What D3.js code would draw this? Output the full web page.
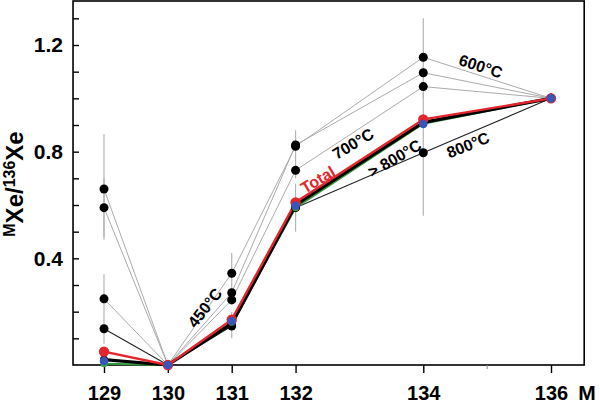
<!DOCTYPE html>
<html><head><meta charset="utf-8">
<script src="https://cdn.jsdelivr.net/npm/d3@7"></script>
<style>
body{margin:0;background:#fff;}
svg{display:block;font-family:"Liberation Sans",Arial,sans-serif;}
</style></head>
<body>
<svg id="chart" width="600" height="403"></svg>
<script>
// ---- data ----
const masses = [129, 130, 131, 132, 134, 136];
const xTickLabels = [129, 130, 131, 132, 134, 136];
const yTickValues = [0.1,0.2,0.3,0.4,0.5,0.6,0.7,0.8,0.9,1.0,1.1,1.2,1.3];
const yTickLabels = [0.4, 0.8, 1.2];
const stepA = [0.66, 0.0, 0.344, 0.82, 1.154, 1.0];   // gray
const stepB = [0.59, 0.0, 0.271, 0.825, 1.096, 1.0];  // gray
const stepC = [0.248, 0.0, 0.244, 0.73, 1.044, 1.0]; // gray
const step800 = [0.136, 0.0, 0.146, 0.59, 0.796, 1.0]; // thin black
const above800 = [0.02, 0.0, 0.155, 0.60, 0.91, 1.0]; // thick black
const greenSeries = [0.005, 0.0, 0.16, 0.59, 0.905, 1.0];
const total = [0.05, 0.0, 0.17, 0.61, 0.921, 1.0];
const blueSeries = [0.015, 0.0, 0.165, 0.597, 0.904, 1.0];
const errMass = [129, 129, 129, 129, 131, 131, 132, 132, 134, 134];
const errLow  = [0.47, 0.48, 0.20, 0.08, 0.26, 0.10, 0.70, 0.50, 1.00, 0.56];
const errHigh = [0.865, 0.70, 0.34, 0.20, 0.42, 0.20, 0.88, 0.68, 1.30, 1.02];
const labelText = ["450°C", "700°C", "Total", "> 800°C", "600°C", "800°C"];
const labelMass = [130.58, 132.9, 132.35, 133.55, 134.9, 134.7];
const labelVal  = [0.215, 0.83, 0.695, 0.775, 1.12, 0.825];
const labelRot  = [-52, -31, -31, -30, 18, -22];
const labelColor = ["#000", "#000", "#e3262b", "#000", "#000", "#000"];

// ---- scales ----
const svg = d3.select("#chart");
const x = d3.scaleLinear().domain([129, 136]).range([104, 551]);
const y = d3.scaleLinear().domain([0, 1.2]).range([365, 45]);
const xMin = 128.515, xMax = 136.52, yMax = 1.365;

// frame
svg.append("rect")
  .attr("x", x(xMin)).attr("y", y(yMax))
  .attr("width", x(xMax) - x(xMin)).attr("height", y(0) - y(yMax))
  .attr("fill", "none").attr("stroke", "#000").attr("stroke-width", 1.6);

// axes
const yAxis = d3.axisLeft(y).tickValues(yTickValues).tickSize(-6).tickPadding(10)
  .tickFormat(d => yTickLabels.some(v => Math.abs(v - d) < 1e-9) ? d3.format(".1f")(d) : "");
const gy = svg.append("g").attr("transform", `translate(${x(xMin)},0)`).call(yAxis);
gy.select(".domain").remove();
gy.selectAll("line").attr("stroke-width", 1.4);
gy.selectAll("text").attr("font-size", 21).attr("font-weight", "bold").attr("fill", "#000");

const xAxis = d3.axisBottom(x).tickValues(xTickLabels).tickSize(8).tickPadding(13).tickFormat(d3.format("d"));
const gx = svg.append("g").attr("transform", `translate(0,${y(0)})`).call(xAxis);
gx.select(".domain").remove();
gx.selectAll("line").attr("stroke-width", 1.4);
gx.selectAll("text").attr("font-size", 20).attr("font-weight", "bold").attr("fill", "#000");
// minor tick
svg.append("line").attr("x1", x(135)).attr("x2", x(135)).attr("y1", y(0)).attr("y2", y(0) + 4)
  .attr("stroke", "#888").attr("stroke-width", 1);

svg.append("text").attr("x", 587).attr("y", 400).attr("text-anchor", "middle")
  .attr("font-size", 21).attr("font-weight", "bold").text("M");

// y label
const yl = svg.append("text").attr("transform", "translate(23,184) rotate(-90)")
  .attr("text-anchor", "middle").attr("font-weight", "bold").attr("font-size", 24);
yl.append("tspan").attr("font-size", 16).attr("dy", -8).text("M");
yl.append("tspan").attr("dy", 8).text("Xe/");
yl.append("tspan").attr("font-size", 16).attr("dy", -8).text("136");
yl.append("tspan").attr("dy", 8).text("Xe");

// error bars
svg.append("g").selectAll("line").data(errMass).join("line")
  .attr("x1", (d) => x(d)).attr("x2", (d) => x(d))
  .attr("y1", (d, i) => y(errLow[i])).attr("y2", (d, i) => y(errHigh[i]))
  .attr("stroke", "#b5b5b5").attr("stroke-width", 1.2);

const line = d3.line().x((d, i) => x(masses[i])).y(d => y(d));
function drawLine(vals, color, w) {
  svg.append("path").datum(vals).attr("d", line).attr("fill", "none")
    .attr("stroke", color).attr("stroke-width", w).attr("stroke-linejoin", "round");
}
function drawDots(vals, color, r) {
  svg.append("g").selectAll("circle").data(vals).join("circle")
    .attr("cx", (d, i) => x(masses[i])).attr("cy", d => y(d)).attr("r", r).attr("fill", color);
}
drawLine(stepA, "#ababab", 1);
drawLine(stepB, "#ababab", 1);
drawLine(stepC, "#ababab", 1);
drawLine(step800, "#222", 1.1);
drawLine(greenSeries, "#2e9a3a", 2);
drawLine(above800, "#000", 3.2);
drawLine(total, "#e3262b", 2.4);

drawDots(stepA, "#000", 4.5);
drawDots(stepB, "#000", 4.5);
drawDots(stepC, "#000", 4.5);
drawDots(step800, "#000", 4.5);
drawDots(above800, "#000", 4);
drawDots(greenSeries, "#3aa64a", 3.5);
drawDots(total, "#e3262b", 5.2);
drawDots(blueSeries, "#3a55b8", 4.3);

// labels
svg.append("g").selectAll("text").data(labelText).join("text")
  .attr("transform", (d, i) => `translate(${x(labelMass[i])},${y(labelVal[i])}) rotate(${labelRot[i]})`)
  .attr("text-anchor", "middle").attr("dy", "0.35em")
  .attr("font-size", 16).attr("font-weight", "bold")
  .attr("fill", (d, i) => labelColor[i]).text(d => d);
</script>
</body></html>
